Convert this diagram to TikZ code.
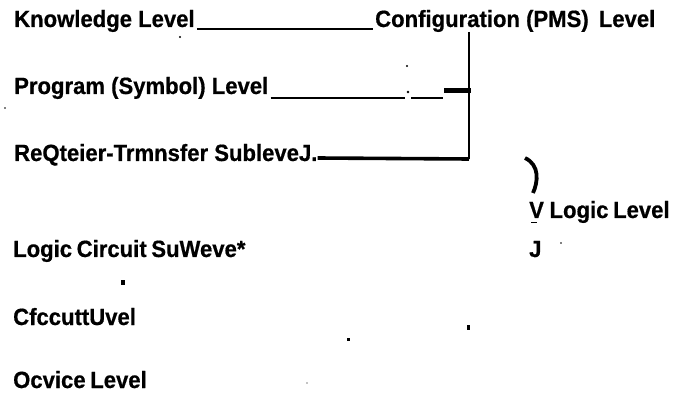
\documentclass[tikz,border=0pt]{standalone}
\usepackage{fontspec}
\setmainfont[FakeStretch=0.94,BoldFeatures={FakeBold=0.6}]{Liberation Sans}
\begin{document}
\begin{tikzpicture}[x=1pt,y=1pt,
  lbl/.style={anchor=base west,inner sep=0pt,font=\fontsize{23.5}{27}\selectfont\bfseries},
  rule/.style={line width=2.8pt},
  heavy/.style={line width=5pt},
  speck/.style={fill=black}]
\useasboundingbox (0,0) rectangle (674,-395);
% labels
\node[lbl] (know) at (14,-27) {Knowledge Level};
\node[lbl] (conf) at (375,-27) {Configuration (PMS)\hspace{4pt} Level};
\node[lbl] (prog) at (14,-94) {Program (Symbol) Level};
\node[lbl] (req) at (14,-161) {ReQteier-Trmnsfer SubleveJ.};
\node[lbl] (vlog) at (529,-218) {V\hspace{-0.5pt} Logic\hspace{-1.5pt} Level};
\node[lbl] (logic) at (13,-257) {Logic\hspace{-1.5pt} Circuit\hspace{-1.5pt} SuWeve*};
\node[lbl] (jj) at (529,-257) {J};
\node[lbl] (cfc) at (13,-325) {CfccuttUvel};
\node[lbl] (ocv) at (13,-388) {Ocvice\hspace{-1.5pt} Level};
% coordinates
\coordinate (vtop) at (469,-32);
\coordinate (vbot) at (469,-159);
\coordinate (pa) at (405,-98);
\coordinate (pb) at (411,-98);
\coordinate (pc) at (443,-98);
\coordinate (pd) at (444,-91);
\coordinate (pe) at (471,-91);
% connectors
\draw[rule] ([yshift=-2pt,xshift=2pt]know.base east) -- ([yshift=-2pt,xshift=-2pt]conf.base west);
\draw[rule] (vtop) -- (vbot);
\draw[rule] ([yshift=-4pt,xshift=2pt]prog.base east) -- (pa);
\draw[rule] (pb) -- (pc);
\draw[heavy] (pd) -- (pe);
\draw[line width=3.6pt] ([yshift=3pt]req.base east) -- (vbot);
% bracket
\draw[line width=3.8pt] (525,-158) .. controls (540,-165) and (538,-182) .. (533,-193);
% specks
\fill[speck] (180,-37) circle (1.2);
\fill[speck] (407,-66) circle (1.2);
\fill[speck] (408,-92) circle (1.4);
\fill[speck] (5,-108) circle (0.9);
\fill[speck] (121,-280) rectangle (125,-285);
\fill[speck] (467,-325) rectangle (470,-330);
\fill[speck] (347,-338) rectangle (350,-341);
\fill[speck] (307,-383) circle (0.7);
\fill[speck] (561,-243) circle (0.9);
\fill[speck] (531,-222) rectangle (537,-223.5);
\end{tikzpicture}
\end{document}
